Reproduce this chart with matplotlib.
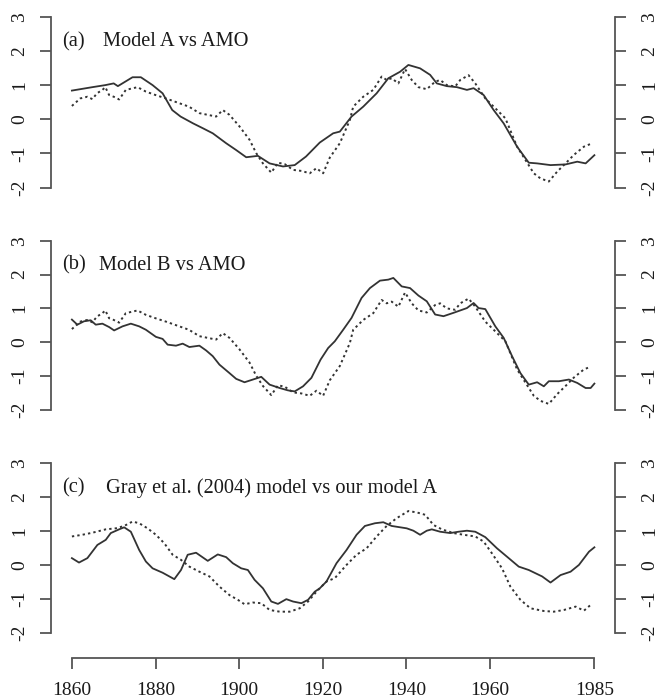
import matplotlib
matplotlib.use("Agg")
import matplotlib.pyplot as plt

plt.rcParams['font.family'] = ['Liberation Serif', 'DejaVu Serif']

# AMO index (dotted, panels a and b)
amo_year = [1860, 1862, 1863.7, 1864.9, 1866, 1867.3, 1868, 1868.9, 1870, 1871.3, 1872.9,
            1875.7, 1877.7, 1880, 1882.5, 1885.7, 1888, 1890.5, 1892.5, 1894.5, 1896.1,
            1897.7, 1900.1, 1902.5, 1904.1, 1905.7, 1907.7, 1909.3, 1910.9, 1912.9, 1914.9,
            1916.9, 1918.5, 1920.1, 1921.7, 1924.1, 1926.5, 1927.3, 1929.7, 1932.1, 1934.1,
            1935.3, 1936.5, 1938.1, 1939.7, 1941.3, 1942.9, 1944.9, 1946.9, 1948.1, 1949.7,
            1951.7, 1952.9, 1954.9, 1956.5, 1958.9, 1960.9, 1963.7, 1966.5, 1968.5, 1970.5,
            1972.1, 1974.1, 1976.1, 1978.1, 1980.1, 1982.5, 1984.1]
amo_val = [0.39, 0.61, 0.66, 0.59, 0.76, 0.86, 0.94, 0.71, 0.66, 0.58, 0.86,
           0.94, 0.81, 0.71, 0.61, 0.47, 0.37, 0.18, 0.13, 0.08, 0.27,
           0.13, -0.21, -0.60, -0.99, -1.29, -1.56, -1.27, -1.31, -1.48, -1.51,
           -1.58, -1.43, -1.58, -1.12, -0.70, -0.02, 0.37, 0.66, 0.86, 1.25,
           1.15, 1.20, 1.05, 1.47, 1.15, 0.94, 0.88, 1.10, 1.15, 1.00,
           0.96, 1.15, 1.29, 1.05, 0.61, 0.37, 0.03, -0.80, -1.19, -1.58,
           -1.73, -1.82, -1.53, -1.29, -1.04, -0.80, -0.72]

# Model A (solid, panel a)
ma_year = [1860, 1864.9, 1868, 1870, 1871, 1874.5, 1876.5, 1879.3, 1881.7, 1884, 1886,
           1889, 1891.3, 1893.7, 1896.9, 1899.3, 1901.7, 1904.5, 1907.3, 1910.5, 1913.3,
           1916, 1919.3, 1922.5, 1924.1, 1926.9, 1929.7, 1932.9, 1935.7, 1938.5, 1940.5,
           1943.3, 1945.7, 1947.3, 1949.7, 1952.1, 1954.5, 1956.1, 1958.5, 1960.9, 1963.3,
           1966.5, 1969.3, 1971.3, 1974.5, 1978.1, 1980.9, 1982.9, 1985]
ma_val = [0.84, 0.94, 1.00, 1.05, 0.97, 1.23, 1.23, 1.00, 0.76, 0.27, 0.08,
          -0.12, -0.26, -0.41, -0.70, -0.90, -1.11, -1.07, -1.29, -1.38, -1.34,
          -1.09, -0.68, -0.41, -0.36, 0.08, 0.37, 0.76, 1.20, 1.39, 1.59,
          1.49, 1.30, 1.05, 0.97, 0.94, 0.86, 0.91, 0.71, 0.27, -0.12,
          -0.80, -1.27, -1.29, -1.34, -1.32, -1.24, -1.29, -1.05]

# Model B (solid, panel b)
mb_year = [1860, 1861.3, 1862.9, 1864.5, 1865.7, 1867.3, 1868.9, 1870.1, 1872.1, 1874.1,
           1876.1, 1877.7, 1880.1, 1881.7, 1882.9, 1884.9, 1886.5, 1888.1, 1890.5, 1892.1,
           1893.7, 1895.3, 1897.7, 1899.3, 1901.3, 1903.3, 1905.3, 1907.3, 1909.7, 1911.7,
           1913.3, 1915.3, 1917.3, 1919.5, 1921.3, 1922.9, 1924.9, 1926.9, 1929.3, 1931.3,
           1933.7, 1935.7, 1936.9, 1938.9, 1940.9, 1942.9, 1944.9, 1946.9, 1948.9, 1951.3,
           1952.9, 1954.5, 1956.1, 1957.3, 1958.9, 1961.3, 1963.3, 1965.3, 1967.3, 1969.3,
           1971.3, 1972.9, 1974.1, 1976.5, 1978.9, 1980.9, 1982.9, 1984.1, 1985]
mb_val = [0.67, 0.52, 0.62, 0.65, 0.52, 0.55, 0.45, 0.35, 0.47, 0.55,
          0.47, 0.37, 0.16, 0.10, -0.07, -0.10, -0.04, -0.14, -0.10, -0.24,
          -0.41, -0.66, -0.91, -1.08, -1.18, -1.10, -1.02, -1.25, -1.35, -1.42,
          -1.45, -1.30, -1.05, -0.51, -0.17, 0.03, 0.37, 0.72, 1.31, 1.60,
          1.82, 1.85, 1.90, 1.65, 1.60, 1.38, 1.21, 0.82, 0.77, 0.87,
          0.94, 1.01, 1.16, 1.01, 0.98, 0.47, 0.13, -0.41, -0.91, -1.25,
          -1.18, -1.30, -1.15, -1.15, -1.10, -1.20, -1.35, -1.35, -1.22]

# Gray et al. (2004) model (solid, panel c)
gray_year = [1860, 1861.7, 1863.7, 1866.1, 1868.1, 1869.3, 1871.3, 1872.5, 1874.1, 1876.1,
             1877.7, 1879.3, 1881.7, 1884.5, 1886.1, 1887.7, 1889.7, 1892.5, 1894.9, 1896.9,
             1898.5, 1900.5, 1902.1, 1903.7, 1905.7, 1907.7, 1909.3, 1911.3, 1912.9, 1914.9,
             1916.5, 1918.1, 1919.3, 1920.9, 1923.3, 1925.7, 1928.1, 1930.1, 1932.5, 1934.5,
             1936.5, 1940.1, 1941.7, 1943.3, 1944.9, 1946.1, 1948.1, 1950.5, 1952.5, 1954.5,
             1956.5, 1958.9, 1961.7, 1964.5, 1966.9, 1969.3, 1972.5, 1974.5, 1976.9, 1979.3,
             1981.3, 1983.7, 1985]
gray_val = [0.20, 0.07, 0.20, 0.59, 0.74, 0.94, 1.05, 1.11, 0.98, 0.44,
            0.10, -0.10, -0.23, -0.42, -0.15, 0.30, 0.36, 0.12, 0.31, 0.23,
            0.05, -0.10, -0.15, -0.44, -0.69, -1.08, -1.15, -1.01, -1.08, -1.13,
            -1.03, -0.79, -0.69, -0.49, 0.05, 0.44, 0.89, 1.15, 1.23, 1.26,
            1.15, 1.08, 1.01, 0.89, 1.01, 1.05, 0.98, 0.94, 0.98, 1.01,
            0.98, 0.82, 0.49, 0.20, -0.05, -0.15, -0.34, -0.52, -0.30, -0.20,
            0.00, 0.39, 0.52]

# our model A (dotted, panel c)
oa_year = [1860, 1862.5, 1864.9, 1868.1, 1870.5, 1872.5, 1874.5, 1876.1, 1878.1, 1880.1,
           1882.1, 1884.1, 1886.1, 1888.1, 1890.5, 1892.9, 1895.3, 1897.7, 1899.7, 1901.3,
           1903.3, 1905.3, 1907.3, 1909.7, 1912.1, 1914.5, 1916.5, 1918.5, 1920.9, 1922.9,
           1925.7, 1928.1, 1930.5, 1932.9, 1935.3, 1937.7, 1940.5, 1942.5, 1944.5, 1946.5,
           1948.5, 1951.3, 1953.7, 1956.5, 1958.5, 1960.5, 1962.9, 1964.9, 1967.3, 1969.7,
           1972.9, 1975.3, 1977.7, 1980.5, 1982.5, 1984.1]
oa_val = [0.84, 0.89, 0.95, 1.05, 1.08, 1.15, 1.28, 1.23, 1.08, 0.89,
          0.64, 0.30, 0.15, -0.05, -0.20, -0.34, -0.64, -0.89, -1.03, -1.16,
          -1.11, -1.13, -1.33, -1.38, -1.38, -1.28, -1.08, -0.79, -0.49, -0.39,
          0.00, 0.30, 0.49, 0.84, 1.15, 1.38, 1.59, 1.55, 1.48, 1.18,
          1.05, 0.94, 0.89, 0.84, 0.69, 0.34, -0.10, -0.64, -1.03, -1.28,
          -1.36, -1.38, -1.33, -1.23, -1.35, -1.18]

y_ticks = [-2, -1, 0, 1, 2, 3]
y_ticklabels = ['-2', '-1', '0', '1', '2', '3']
x_ticks = [1860, 1880, 1900, 1920, 1940, 1960, 1985]

panels = [
    ("(a)", "Model A vs AMO", ma_year, ma_val, amo_year, amo_val),
    ("(b)", "Model B vs AMO", mb_year, mb_val, amo_year, amo_val),
    ("(c)", "Gray et al. (2004) model vs our model A", gray_year, gray_val, oa_year, oa_val),
]

W, H = 657, 699
fig = plt.figure(figsize=(W / 100, H / 100), dpi=100)

x0, x1 = 51, 615.3
# (top pixel, bottom pixel, ylim)
boxes = [(9.9, 194.5, (-2.2, 3.2)),
         (233.9, 416.8, (-2.2, 3.2)),
         (456.5, 658.1, (-2.75, 3.2))]
title_x = [103, 99, 106]
title_y = [41.7, 265, 488.3]

line_col = '#333333'
axis_col = '#555555'
text_col = '#1a1a1a'

for i, ((lab, ttl, sy, sv, dy, dv), (top, bot, yl)) in enumerate(zip(panels, boxes)):
    ax = fig.add_axes([x0 / W, 1 - bot / H, (x1 - x0) / W, (bot - top) / H])
    ax.set_xlim(1855, 1990)
    ax.set_ylim(*yl)
    ax.plot(sy, sv, color=line_col, lw=1.3, ls='-')
    ax.plot(dy, dv, color=line_col, lw=1.4, ls=(0, (1.2, 1.6)))

    ax.spines['top'].set_visible(False)
    for s in ['left', 'right']:
        ax.spines[s].set_bounds(-2, 3)
        ax.spines[s].set_color(axis_col)
        ax.spines[s].set_linewidth(1.3)
    ax.set_yticks(y_ticks)
    ax.tick_params(axis='y', which='both', left=True, right=True, labelleft=False,
                   labelright=False, direction='out', length=8, width=1.3,
                   color=axis_col)
    # rotated tick labels on both sides (R style)
    ytr = ax.get_yaxis_transform()
    for v, t in zip(y_ticks, y_ticklabels):
        ax.text((20 - x0) / (x1 - x0), v, t, transform=ytr, rotation=90,
                ha='center', va='center', fontsize=14, color=text_col)
        ax.text((650 - x0) / (x1 - x0), v, t, transform=ytr, rotation=90,
                ha='center', va='center', fontsize=14, color=text_col)

    if i < 2:
        ax.spines['bottom'].set_visible(False)
        ax.set_xticks([])
    else:
        ax.spines['bottom'].set_bounds(1860, 1985)
        ax.spines['bottom'].set_color(axis_col)
        ax.spines['bottom'].set_linewidth(1.3)
        ax.set_xticks(x_ticks)
        ax.tick_params(axis='x', direction='out', length=8, width=1.3,
                       color=axis_col, labelsize=14, pad=9, labelcolor=text_col)

    ax.patch.set_alpha(0)
    fig.text(62 / W, 1 - title_y[i] / H, lab, fontsize=14.7,
             va='center', ha='left', color=text_col)
    fig.text(title_x[i] / W, 1 - title_y[i] / H, ttl, fontsize=14.7,
             va='center', ha='left', color=text_col)

fig.savefig('out.png', dpi=100)
